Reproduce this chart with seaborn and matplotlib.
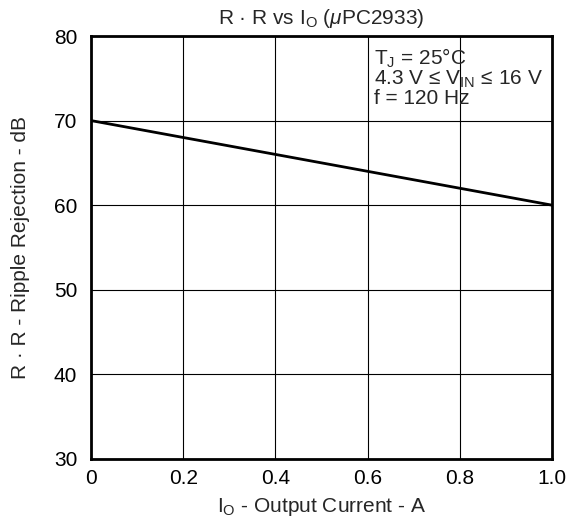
import matplotlib
matplotlib.use("Agg")
import matplotlib.pyplot as plt
import pandas as pd
import seaborn as sns

# Data
output_current = [0.0, 1.0]
ripple_rejection = [70.0, 60.0]
x_ticks = [0, 0.2, 0.4, 0.6, 0.8, 1.0]
x_tick_labels = ["0", "0.2", "0.4", "0.6", "0.8", "1.0"]
y_ticks = [30, 40, 50, 60, 70, 80]

df = pd.DataFrame({"io": output_current, "rr": ripple_rejection})

sns.set_style("white")
plt.rcParams["font.family"] = ["Liberation Sans", "DejaVu Sans"]
plt.rcParams["mathtext.fontset"] = "custom"
plt.rcParams["mathtext.rm"] = "Liberation Sans"
plt.rcParams["mathtext.it"] = "Liberation Sans:italic"

FS = 15

fig = plt.figure(figsize=(5.69, 5.22), dpi=100)
ax = fig.add_axes([0.160, 0.121, 0.810, 0.810])

sns.lineplot(data=df, x="io", y="rr", color="black", linewidth=2, ax=ax)

ax.set_xlim(0, 1.0)
ax.set_ylim(30, 80)
ax.set_xticks(x_ticks)
ax.set_xticklabels(x_tick_labels)
ax.set_yticks(y_ticks)
ax.tick_params(length=0, labelsize=FS, colors="black")
ax.tick_params(axis="y", pad=10)
ax.tick_params(axis="x", pad=7)
ax.grid(True, color="black", linewidth=0.8)
for s in ax.spines.values():
    s.set_linewidth(2)
    s.set_color("black")

ax.set_xlabel(r"I$_\mathregular{O}$ - Output Current - A", fontsize=FS, labelpad=6)
ax.set_ylabel("R · R - Ripple Rejection - dB", fontsize=FS, labelpad=17)
ax.set_title(r"R · R vs I$_\mathregular{O}$ ($\mathit{\mu}$PC2933)", fontsize=FS, pad=9)

ax.text(0.614, 0.975,
        "T$_\\mathregular{J}$ = 25°C\n"
        "4.3 V ≤ V$_\\mathregular{IN}$ ≤ 16 V\n"
        "f = 120 Hz",
        transform=ax.transAxes, ha="left", va="top", fontsize=FS,
        linespacing=0.92)

fig.savefig("out.png", dpi=100)
